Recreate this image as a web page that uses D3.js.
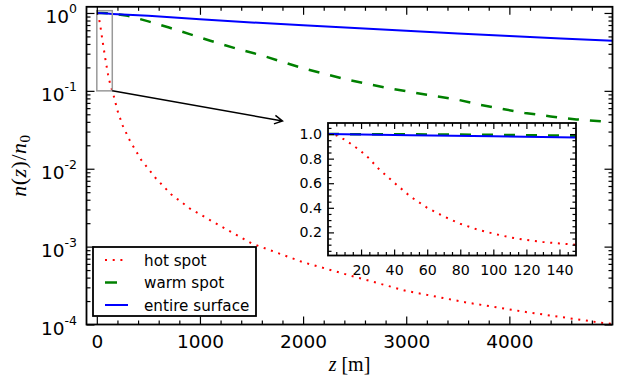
<!DOCTYPE html>
<html>
<head>
<meta charset="utf-8">
<script src="https://cdn.jsdelivr.net/npm/d3@7"></script>
<style>
  body { margin: 0; background: #fff; }
  svg { display: block; font-family: "DejaVu Sans", sans-serif; }
</style>
</head>
<body>
<div id="chart"></div>
<script>
// depth z [m] and normalised density n(z)/n0
const hotZ = [0, 5, 10, 15, 20, 25, 30, 35, 40, 50, 60, 70, 80, 90, 100, 110, 120, 130, 140, 150, 165, 200, 250, 320, 430, 570, 720, 900, 1150, 1500, 2000, 2500, 3000, 3600, 4200, 4900, 5000];
const hotN = [1.0, 0.99, 0.955, 0.91, 0.86, 0.80, 0.725, 0.665, 0.605, 0.49, 0.40, 0.33, 0.27, 0.225, 0.19, 0.16, 0.138, 0.122, 0.11, 0.10, 0.085, 0.056, 0.036, 0.023, 0.013, 0.0076, 0.0047, 0.0031, 0.0020, 0.0011, 0.00063, 0.00041, 0.00027, 0.00019, 0.000142, 0.000105, 0.000102];

const warmZ = [0, 50, 100, 150, 300, 500, 700, 900, 1100, 1350, 1600, 2000, 2450, 2800, 3200, 3500, 3700, 3950, 4150, 4400, 4650, 4950, 5000];
const warmN = [1.0, 0.998, 0.994, 0.986, 0.92, 0.78, 0.65, 0.535, 0.44, 0.35, 0.285, 0.195, 0.137, 0.11, 0.089, 0.077, 0.067, 0.058, 0.052, 0.047, 0.043, 0.040, 0.0395];

const surfZ = [0, 50, 100, 150, 500, 1000, 1500, 2000, 2500, 3000, 3500, 4000, 4500, 5000];
const surfN = [1.0, 0.991, 0.982, 0.973, 0.92, 0.83, 0.755, 0.695, 0.64, 0.59, 0.545, 0.505, 0.47, 0.44];

const seriesNames = ["hot spot", "warm spot", "entire surface"];

const xTicks = [0, 1000, 2000, 3000, 4000];
const yTickExp = [0, -1, -2, -3, -4];
const insetXTicks = [20, 40, 60, 80, 100, 120, 140];
const insetYTicks = [0.2, 0.4, 0.6, 0.8, 1.0];

// zoom box [z0, z1] x [n0, n1] and arrow end, in data units
const zoomBox = { z: [0, 150], n: [0.1, 1.07] };
const arrowEnd = { z: 1800, n: 0.041 };

const width = 619, height = 382;
const M = { left: 86.5, right: 612.5, top: 6.8, bottom: 324.5 };
const I = { left: 328, right: 576, top: 123, bottom: 255.5 };

const svg = d3.select("#chart").append("svg")
    .attr("width", width)
    .attr("height", height);

const x = d3.scaleLinear().domain([-100, 5000]).range([M.left, M.right]);
const y = d3.scaleLog().domain([1e-4, 1.2]).range([M.bottom, M.top]);

const xi = d3.scaleLinear().domain([0, 150]).range([I.left, I.right]);
const yi = d3.scaleLinear().domain([0.012, 1.09]).range([I.bottom, I.top]);

const styles = [
    { z: hotZ, n: hotN, color: "#ff0000", width: 2, dash: "2,5.7" },
    { z: warmZ, n: warmN, color: "#008000", width: 2.5, dash: "11,11" },
    { z: surfZ, n: surfN, color: "#0000ff", width: 2, dash: null }
];

const defs = svg.append("defs");
defs.append("clipPath").attr("id", "clipMain").append("rect")
    .attr("x", M.left).attr("y", M.top)
    .attr("width", M.right - M.left).attr("height", M.bottom - M.top);
defs.append("clipPath").attr("id", "clipInset").append("rect")
    .attr("x", I.left).attr("y", I.top)
    .attr("width", I.right - I.left).attr("height", I.bottom - I.top);

// ---- main plot lines
const mainLine = (s) => d3.line()
    .x((d, i) => x(s.z[i]))
    .y(d => y(d));

const gMain = svg.append("g").attr("clip-path", "url(#clipMain)");
styles.forEach(s => {
    gMain.append("path")
        .datum(s.n)
        .attr("d", mainLine(s))
        .attr("fill", "none")
        .attr("stroke", s.color)
        .attr("stroke-width", s.width)
        .attr("stroke-dasharray", s.dash);
});

// zoom box and arrow
svg.append("rect")
    .attr("x", x(zoomBox.z[0]))
    .attr("y", y(zoomBox.n[1]))
    .attr("width", x(zoomBox.z[1]) - x(zoomBox.z[0]))
    .attr("height", y(zoomBox.n[0]) - y(zoomBox.n[1]))
    .attr("fill", "none")
    .attr("stroke", "#999")
    .attr("stroke-width", 1.5);

const ax0 = x(zoomBox.z[1]), ay0 = y(zoomBox.n[0]);
const ax1 = x(arrowEnd.z), ay1 = y(arrowEnd.n);
const ang = Math.atan2(ay1 - ay0, ax1 - ax0);
const headLen = 9, headAng = 0.5;
svg.append("path")
    .attr("d", `M${ax0},${ay0}L${ax1},${ay1}` +
        `M${ax1 - headLen * Math.cos(ang - headAng)},${ay1 - headLen * Math.sin(ang - headAng)}` +
        `L${ax1},${ay1}` +
        `L${ax1 - headLen * Math.cos(ang + headAng)},${ay1 - headLen * Math.sin(ang + headAng)}`)
    .attr("fill", "none")
    .attr("stroke", "#000")
    .attr("stroke-width", 1.5);

// ---- main axes (ticks inward on all four sides)
const minorX = d3.range(200, 5000, 200).filter(v => v % 1000 !== 0);
const minorY = [];
[-4, -3, -2, -1].forEach(e => {
    for (let k = 2; k <= 9; k++) minorY.push(k * Math.pow(10, e));
});
const majorY = yTickExp.map(e => Math.pow(10, e));

function tickStyle(g) {
    g.select(".domain").remove();
    g.selectAll(".tick line").attr("stroke", "#000").attr("stroke-width", 1.2);
}

svg.append("g").attr("transform", `translate(0,${M.bottom})`)
    .call(d3.axisBottom(x).tickValues(minorX).tickSize(-4).tickFormat(""))
    .call(tickStyle);
svg.append("g").attr("transform", `translate(0,${M.top})`)
    .call(d3.axisTop(x).tickValues(minorX).tickSize(-4).tickFormat(""))
    .call(tickStyle);
svg.append("g").attr("transform", `translate(0,${M.top})`)
    .call(d3.axisTop(x).tickValues(xTicks).tickSize(-8).tickFormat(""))
    .call(tickStyle);
const gx = svg.append("g").attr("transform", `translate(0,${M.bottom})`)
    .call(d3.axisBottom(x).tickValues(xTicks).tickSize(-8).tickPadding(10.5).tickFormat(d3.format("d")))
    .call(tickStyle);
gx.selectAll("text")
    .attr("fill", "#000")
    .style("font-size", "18.5px")
    .style("font-family", "DejaVu Sans");

svg.append("g").attr("transform", `translate(${M.left},0)`)
    .call(d3.axisLeft(y).tickValues(minorY).tickSize(-4).tickFormat(""))
    .call(tickStyle);
svg.append("g").attr("transform", `translate(${M.right},0)`)
    .call(d3.axisRight(y).tickValues(minorY).tickSize(-4).tickFormat(""))
    .call(tickStyle);
svg.append("g").attr("transform", `translate(${M.left},0)`)
    .call(d3.axisLeft(y).tickValues(majorY).tickSize(-8).tickFormat(""))
    .call(tickStyle);
svg.append("g").attr("transform", `translate(${M.right},0)`)
    .call(d3.axisRight(y).tickValues(majorY).tickSize(-8).tickFormat(""))
    .call(tickStyle);

// y tick labels 10^e
yTickExp.forEach(e => {
    const ty = y(Math.pow(10, e));
    const t = svg.append("text")
        .attr("x", 77)
        .attr("y", ty + 10.5)
        .attr("text-anchor", "end")
        .style("font-size", "18.5px")
        .attr("fill", "#000");
    t.append("tspan").text("10");
    t.append("tspan")
        .attr("dy", -10)
        .style("font-size", "12.5px")
        .text(e === 0 ? "0" : "-" + Math.abs(e));
});

svg.append("rect")
    .attr("x", M.left).attr("y", M.top)
    .attr("width", M.right - M.left).attr("height", M.bottom - M.top)
    .attr("fill", "none").attr("stroke", "#000").attr("stroke-width", 1.8);

// axis titles
const xt = svg.append("text")
    .attr("x", (M.left + M.right) / 2)
    .attr("y", 371)
    .attr("text-anchor", "middle")
    .style("font-family", "'Liberation Serif', serif")
    .style("font-size", "20px")
    .attr("fill", "#000");
xt.append("tspan").style("font-style", "italic").text("z");
xt.append("tspan").text(" [m]");

const yt = svg.append("text")
    .attr("transform", `translate(26,${(M.top + M.bottom) / 2}) rotate(-90)`)
    .attr("text-anchor", "middle")
    .style("font-family", "'Liberation Serif', serif")
    .style("font-size", "22px")
    .style("letter-spacing", "0.5px")
    .attr("fill", "#000");
yt.append("tspan").style("font-style", "italic").text("n");
yt.append("tspan").text("(");
yt.append("tspan").style("font-style", "italic").text("z");
yt.append("tspan").text(")/");
yt.append("tspan").style("font-style", "italic").text("n");
yt.append("tspan").attr("dy", 4).style("font-size", "15px").text("0");

// ---- legend
const L = { x: 93, y: 247, w: 163, h: 69 };
svg.append("rect")
    .attr("x", L.x).attr("y", L.y).attr("width", L.w).attr("height", L.h)
    .attr("fill", "#fff").attr("stroke", "#000").attr("stroke-width", 1.8);
const legendRows = [260, 282.5, 305];
styles.forEach((s, i) => {
    svg.append("line")
        .attr("x1", 105).attr("x2", 128)
        .attr("y1", legendRows[i]).attr("y2", legendRows[i])
        .attr("stroke", s.color)
        .attr("stroke-width", s.width)
        .attr("stroke-dasharray", i === 1 ? "12,30" : s.dash);
    svg.append("text")
        .attr("x", 144)
        .attr("y", legendRows[i] + 5.5)
        .style("font-size", "15.2px")
        .attr("fill", "#000")
        .text(seriesNames[i]);
});

// ---- inset
svg.append("rect")
    .attr("x", I.left).attr("y", I.top)
    .attr("width", I.right - I.left).attr("height", I.bottom - I.top)
    .attr("fill", "#fff");

const gIn = svg.append("g").attr("clip-path", "url(#clipInset)");
styles.forEach(s => {
    gIn.append("path")
        .datum(s.n)
        .attr("d", d3.line().x((d, i) => xi(s.z[i])).y(d => yi(d)))
        .attr("fill", "none")
        .attr("stroke", s.color)
        .attr("stroke-width", s.width)
        .attr("stroke-dasharray", s.dash);
});

const insetMinorX = d3.range(5, 150, 5).filter(v => v % 20 !== 0);
const insetMinorY = d3.range(0.05, 1.09, 0.05).filter(v => Math.abs(v * 5 - Math.round(v * 5)) > 1e-6);

svg.append("g").attr("transform", `translate(0,${I.bottom})`)
    .call(d3.axisBottom(xi).tickValues(insetMinorX).tickSize(-3.5).tickFormat(""))
    .call(tickStyle);
svg.append("g").attr("transform", `translate(0,${I.top})`)
    .call(d3.axisTop(xi).tickValues(insetMinorX).tickSize(-3.5).tickFormat(""))
    .call(tickStyle);
svg.append("g").attr("transform", `translate(0,${I.top})`)
    .call(d3.axisTop(xi).tickValues(insetXTicks).tickSize(-6).tickFormat(""))
    .call(tickStyle);
const gxi = svg.append("g").attr("transform", `translate(0,${I.bottom})`)
    .call(d3.axisBottom(xi).tickValues(insetXTicks).tickSize(-6).tickPadding(9).tickFormat(d3.format("d")))
    .call(tickStyle);
gxi.selectAll("text").attr("fill", "#000").style("font-size", "14.2px").style("font-family", "DejaVu Sans");

svg.append("g").attr("transform", `translate(${I.left},0)`)
    .call(d3.axisLeft(yi).tickValues(insetMinorY).tickSize(-3.5).tickFormat(""))
    .call(tickStyle);
svg.append("g").attr("transform", `translate(${I.right},0)`)
    .call(d3.axisRight(yi).tickValues(insetMinorY).tickSize(-3.5).tickFormat(""))
    .call(tickStyle);
svg.append("g").attr("transform", `translate(${I.right},0)`)
    .call(d3.axisRight(yi).tickValues(insetYTicks).tickSize(-6).tickFormat(""))
    .call(tickStyle);
const gyi = svg.append("g").attr("transform", `translate(${I.left},0)`)
    .call(d3.axisLeft(yi).tickValues(insetYTicks).tickSize(-6).tickPadding(6).tickFormat(d3.format(".1f")))
    .call(tickStyle);
gyi.selectAll("text").attr("fill", "#000").style("font-size", "14.2px").style("font-family", "DejaVu Sans");

svg.append("rect")
    .attr("x", I.left).attr("y", I.top)
    .attr("width", I.right - I.left).attr("height", I.bottom - I.top)
    .attr("fill", "none").attr("stroke", "#000").attr("stroke-width", 1.8);
</script>
</body>
</html>
